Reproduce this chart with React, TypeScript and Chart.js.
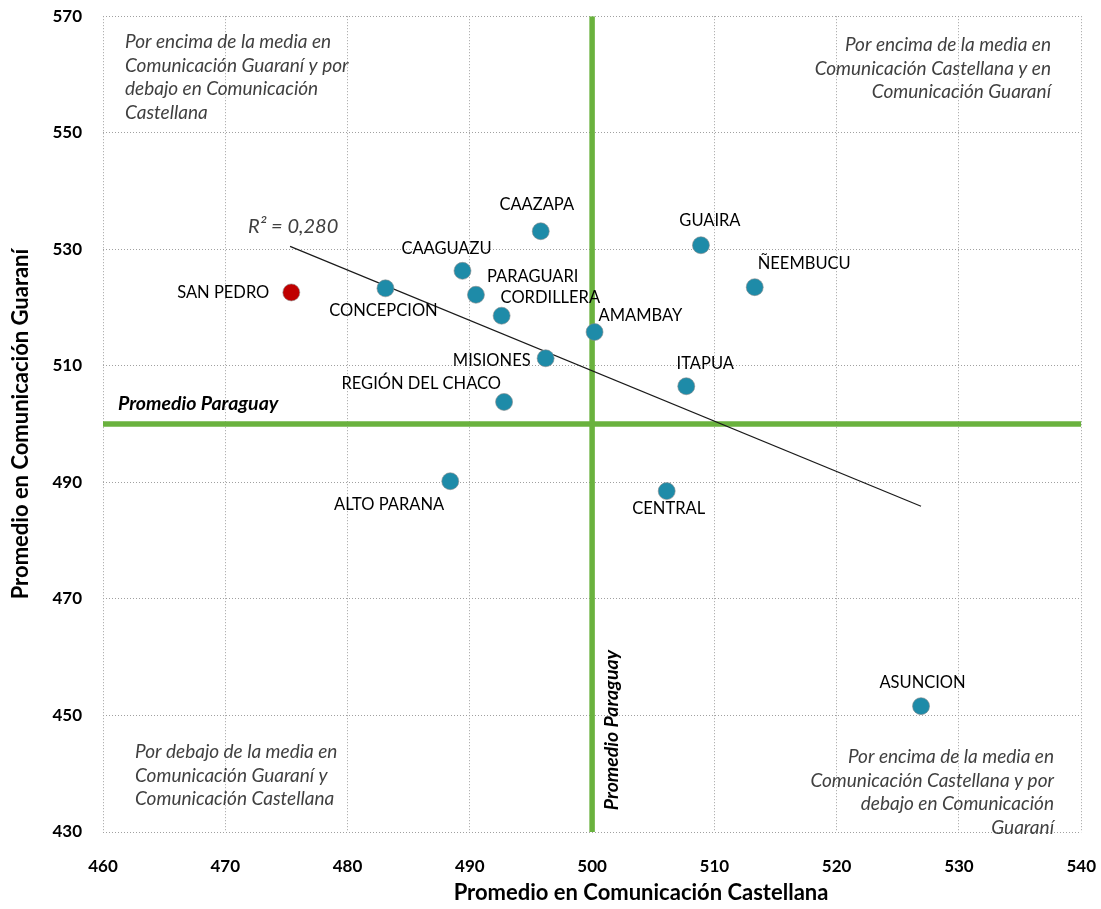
import React, { useEffect, useRef } from "react";
import { Chart, registerables } from "chart.js";

Chart.register(...registerables);

// ---- Data ----
const departamentos = [
  "SAN PEDRO",
  "CONCEPCION",
  "CAAGUAZU",
  "PARAGUARI",
  "CORDILLERA",
  "MISIONES",
  "REGIÓN DEL CHACO",
  "CAAZAPA",
  "GUAIRA",
  "ÑEEMBUCU",
  "AMAMBAY",
  "ITAPUA",
  "CENTRAL",
  "ASUNCION",
  "ALTO PARANA",
];
const castellana = [475.4, 483.1, 489.4, 490.5, 492.6, 496.2, 492.8, 495.8, 508.9, 513.3, 500.2, 507.7, 506.1, 526.9, 488.4];
const guarani = [522.6, 523.3, 526.3, 522.2, 518.6, 511.3, 503.8, 533.1, 530.7, 523.5, 515.8, 506.5, 488.5, 451.6, 490.2];
const highlighted = ["SAN PEDRO"];

const promedioCastellana = 500;
const promedioGuarani = 500;

const trendX = [475.3, 526.9];
const trendY = [530.5, 485.9];
const r2Label = "R² = 0,280";

const xTicks = [460, 470, 480, 490, 500, 510, 520, 530, 540];
const yTicks = [430, 450, 470, 490, 510, 530, 550, 570];

const xTitle = "Promedio en Comunicación Castellana";
const yTitle = "Promedio en Comunicación Guaraní";
const promedioLabel = "Promedio Paraguay";

const quadTL = ["Por encima de la media en", "Comunicación Guaraní y por", "debajo en Comunicación", "Castellana"];
const quadTR = ["Por encima de la media en", "Comunicación Castellana y en", "Comunicación Guaraní"];
const quadBL = ["Por debajo de la media en", "Comunicación Guaraní y", "Comunicación Castellana"];
const quadBR = ["Por encima de la media en", "Comunicación Castellana y por", "debajo en Comunicación", "Guaraní"];

// ---- Styles / layout ----
const TEAL = "#1E8BA8";
const RED = "#C00000";
const GREEN = "#6AB23E";
const FONT = "Lato, 'Open Sans', sans-serif";
const PAGE_W = 1101;
const PAGE_H = 909;
const EXTRA_R = 19; // compensates Chart.js label overflow padding
const OY = 15; // canvas shifted up by this amount

// label placement relative to the point (pixels) : [dx, dy, align]
const labelPlacement: Record<string, [number, number, CanvasTextAlign]> = {
  "SAN PEDRO": [-22, 0, "right"],
  CONCEPCION: [-2, 22, "center"],
  CAAGUAZU: [-16, -22, "center"],
  PARAGUARI: [11, -18, "left"],
  CORDILLERA: [-1, -18, "left"],
  MISIONES: [-15, 2, "right"],
  "REGIÓN DEL CHACO": [-3, -18, "right"],
  CAAZAPA: [-4, -27, "center"],
  GUAIRA: [9, -25, "center"],
  "ÑEEMBUCU": [3, -23, "left"],
  AMAMBAY: [4, -16, "left"],
  ITAPUA: [19, -23, "center"],
  CENTRAL: [2, 18, "center"],
  ASUNCION: [1.5, -23, "center"],
  "ALTO PARANA": [-6, 23, "right"],
};

const annotationPlugin = {
  id: "annotationsText",
  afterDatasetsDraw(chart: any) {
    const ctx: CanvasRenderingContext2D = chart.ctx;
    const xs = chart.scales.x;
    const ys = chart.scales.y;
    ctx.save();

    // point labels
    ctx.fillStyle = "#000";
    ctx.font = `16.5px ${FONT}`;
    ctx.textBaseline = "middle";
    departamentos.forEach((name, i) => {
      const px = xs.getPixelForValue(castellana[i]);
      const py = ys.getPixelForValue(guarani[i]);
      const [dx, dy, align] = labelPlacement[name] || [0, -20, "center"];
      ctx.textAlign = align;
      ctx.fillText(name, px + dx, py + dy);
    });

    // R² label near trend line start
    ctx.fillStyle = "#404040";
    ctx.font = `italic 20px ${FONT}`;
    ctx.textAlign = "left";
    ctx.fillText(r2Label, xs.getPixelForValue(trendX[0]) - 42, ys.getPixelForValue(trendY[0]) - 20);

    // quadrant texts
    ctx.font = `italic 19px ${FONT}`;
    const lh = 23.5;
    ctx.textAlign = "left";
    quadTL.forEach((t, i) => ctx.fillText(t, 125, OY + 42 + i * lh));
    quadBL.forEach((t, i) => ctx.fillText(t, 135, OY + 752 + i * lh));
    ctx.textAlign = "right";
    quadTR.forEach((t, i) => ctx.fillText(t, 1051, OY + 45 + i * lh));
    quadBR.forEach((t, i) => ctx.fillText(t, 1054, OY + 757 + i * lh));

    // Promedio Paraguay labels
    ctx.fillStyle = "#000";
    ctx.font = `italic bold 19.5px ${FONT}`;
    ctx.textAlign = "left";
    ctx.fillText(promedioLabel, 118, ys.getPixelForValue(promedioGuarani) - 20);
    ctx.save();
    ctx.translate(xs.getPixelForValue(promedioCastellana) + 20, OY + 730);
    ctx.rotate(-Math.PI / 2);
    ctx.textAlign = "center";
    ctx.fillText(promedioLabel, 0, 0);
    ctx.restore();

    // axis titles
    ctx.font = `bold 22px ${FONT}`;
    ctx.textAlign = "center";
    ctx.fillText(xTitle, 641, OY + 893);
    ctx.save();
    ctx.translate(21, (chart.chartArea.top + chart.chartArea.bottom) / 2);
    ctx.rotate(-Math.PI / 2);
    ctx.fillText(yTitle, 0, 0);
    ctx.restore();

    ctx.restore();
  },
};

export default function App() {
  const canvasRef = useRef<HTMLCanvasElement | null>(null);

  useEffect(() => {
    if (!canvasRef.current) return;
    const points = departamentos.map((_, i) => ({ x: castellana[i], y: guarani[i] }));
    const colors = departamentos.map((n) => (highlighted.includes(n) ? RED : TEAL));

    const chart = new Chart(canvasRef.current, {
      type: "scatter",
      data: {
        datasets: [
          {
            label: "Departamentos",
            data: points,
            backgroundColor: colors,
            borderColor: "rgba(140,140,140,0.6)",
            borderWidth: 1,
            pointRadius: 8.5,
            order: 0,
          },
          {
            label: "Tendencia",
            type: "line",
            data: trendX.map((x, i) => ({ x, y: trendY[i] })),
            borderColor: "#1a1a1a",
            borderWidth: 1.2,
            pointRadius: 0,
            fill: false,
            order: 1,
          },
          {
            label: "Promedio Castellana",
            type: "line",
            data: [
              { x: promedioCastellana, y: yTicks[0] },
              { x: promedioCastellana, y: yTicks[yTicks.length - 1] },
            ],
            borderColor: GREEN,
            borderWidth: 5.5,
            pointRadius: 0,
            fill: false,
            order: 2,
          },
          {
            label: "Promedio Guaraní",
            type: "line",
            data: [
              { x: xTicks[0], y: promedioGuarani },
              { x: xTicks[xTicks.length - 1], y: promedioGuarani },
            ],
            borderColor: GREEN,
            borderWidth: 5.5,
            pointRadius: 0,
            fill: false,
            order: 2,
          },
        ],
      },
      options: {
        animation: false,
        responsive: false,
        layout: { padding: 0 },
        plugins: {
          legend: { display: false },
          tooltip: { enabled: false },
        },
        scales: {
          x: {
            type: "linear",
            min: xTicks[0],
            max: xTicks[xTicks.length - 1],
            afterBuildTicks: (axis: any) => {
              axis.ticks = xTicks.map((v) => ({ value: v }));
            },
            ticks: {
              color: "#000",
              font: { family: FONT, size: 17, weight: "bold" },
              padding: 24,
              maxRotation: 0,
            },
            grid: { color: "#a0a0a0", lineWidth: 1, drawTicks: false },
            border: { display: false, dash: [1, 2] },
            afterFit: (axis: any) => {
              axis.height = 77;
            },
          },
          y: {
            type: "linear",
            min: yTicks[0],
            max: yTicks[yTicks.length - 1],
            afterBuildTicks: (axis: any) => {
              axis.ticks = yTicks.map((v) => ({ value: v }));
            },
            ticks: {
              color: "#000",
              font: { family: FONT, size: 17, weight: "bold" },
              padding: 21,
            },
            grid: { color: "#a0a0a0", lineWidth: 1, drawTicks: false },
            border: { display: false, dash: [1, 2] },
            afterFit: (axis: any) => {
              axis.width = 103;
            },
          },
        },
      } as any,
      plugins: [annotationPlugin],
    });
    return () => chart.destroy();
  }, []);

  return (
    <div
      style={{
        position: "absolute",
        left: 0,
        top: 0,
        width: PAGE_W,
        height: PAGE_H,
        overflow: "hidden",
        background: "#fff",
      }}
    >
      <canvas
        ref={canvasRef}
        width={PAGE_W + EXTRA_R}
        height={PAGE_H + OY}
        style={{ display: "block", position: "absolute", left: 0, top: -OY }}
      />
    </div>
  );
}
